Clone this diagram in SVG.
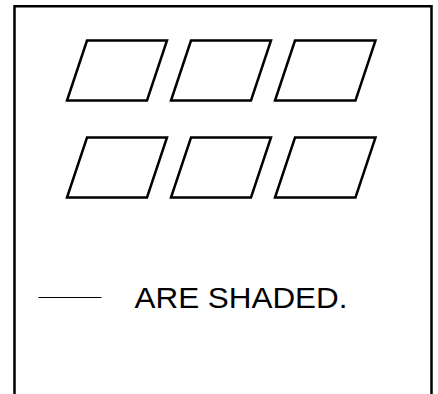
<svg xmlns="http://www.w3.org/2000/svg" width="438" height="394" viewBox="0 0 438 394">
<style>
.frame{fill:none;stroke:#000;stroke-width:2.5}
.pg{fill:#fff;stroke:#000;stroke-width:2.5;stroke-linejoin:miter}
.lbl{font-family:"Liberation Sans",Arial,sans-serif;font-size:29.5px;fill:#000}
</style>
<rect width="438" height="394" fill="#fff"/>
<path class="frame" d="M14.5,394 V6.2 H431.5 V394"/>
<g id="p1"><polygon class="pg" points="87,40.5 167,40.5 147,100.5 67,100.5"/></g>
<g id="p2"><polygon class="pg" points="191,40.5 271,40.5 251,100.5 171,100.5"/></g>
<g id="p3"><polygon class="pg" points="295,40.5 375.5,40.5 355.5,100.5 275,100.5"/></g>
<g id="p4"><polygon class="pg" points="87,137.5 167,137.5 147,197.5 67,197.5"/></g>
<g id="p5"><polygon class="pg" points="191,137.5 271,137.5 251,197.5 171,197.5"/></g>
<g id="p6"><polygon class="pg" points="295,137.5 375.5,137.5 355.5,197.5 275,197.5"/></g>
<g id="legend">
<line x1="38.5" y1="297.5" x2="101.5" y2="297.5" stroke="#000" stroke-width="1.2"/>
<text class="lbl" x="134.5" y="308.3" textLength="213" lengthAdjust="spacingAndGlyphs">ARE SHADED.</text>
</g>
</svg>
